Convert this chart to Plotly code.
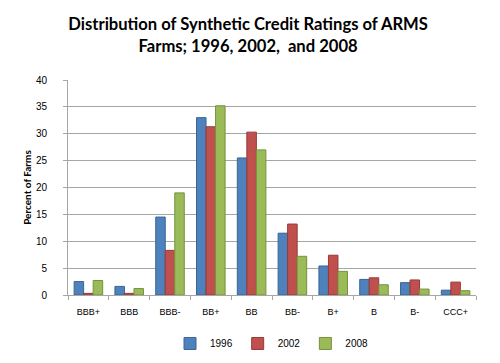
import plotly.graph_objects as go

categories = ["BBB+", "BBB", "BBB-", "BB+", "BB", "BB-", "B+", "B", "B-", "CCC+"]
years = ["1996", "2002", "2008"]
v1996 = [2.5, 1.6, 14.5, 33.0, 25.5, 11.5, 5.4, 2.9, 2.3, 0.9]
v2002 = [0.3, 0.3, 8.3, 31.3, 30.3, 13.2, 7.4, 3.2, 2.8, 2.4]
v2008 = [2.7, 1.2, 19.0, 35.2, 27.0, 7.2, 4.4, 1.9, 1.1, 0.8]
colors = ["#4F81BD", "#C0504D", "#9BBB59"]
edges = ["#3A6596", "#943B39", "#76923C"]

fig = go.Figure()
for name, vals, c, e in zip(years, [v1996, v2002, v2008], colors, edges):
    fig.add_trace(go.Bar(x=categories, y=vals, name=name,
                         marker=dict(color=c, line=dict(color=e, width=1))))

fig.update_layout(
    width=492, height=355,
    paper_bgcolor="white", plot_bgcolor="white",
    margin=dict(l=60, r=24, t=72, b=68),
    title=dict(text="<b>Distribution of Synthetic Credit Ratings of ARMS<br>Farms; 1996, 2002,  and 2008</b>",
               x=0.488, xanchor="center", y=0.938, yanchor="top",
               font=dict(family="Lato", size=16.6, color="black")),
    barmode="group", bargap=0.3, bargroupgap=0.0,
    legend=dict(orientation="h", x=0.5, xanchor="center", yref="container", y=0.055,
                yanchor="middle",
                font=dict(family="Liberation Sans", size=10, color="black"),
                itemwidth=30, traceorder="normal", tracegroupgap=0),
    font=dict(family="Liberation Sans", size=9, color="black"),
)
fig.update_xaxes(showline=True, linecolor="#A6A6A6", ticks="outside", tickcolor="#A6A6A6",
                 ticklen=4, tickson="boundaries", tickfont=dict(size=9), showgrid=False,
                 ticklabelstandoff=8)
fig.update_yaxes(range=[0, 40], dtick=5, showline=True, linecolor="#A6A6A6",
                 ticks="outside", tickcolor="#A6A6A6", ticklen=4,
                 gridcolor="#A6A6A6", gridwidth=1, tickfont=dict(size=10),
                 ticklabelstandoff=14,
                 title=dict(text="<b>Percent of Farms</b>", font=dict(family="Lato", size=10), standoff=2))

fig.write_html("out.html")
